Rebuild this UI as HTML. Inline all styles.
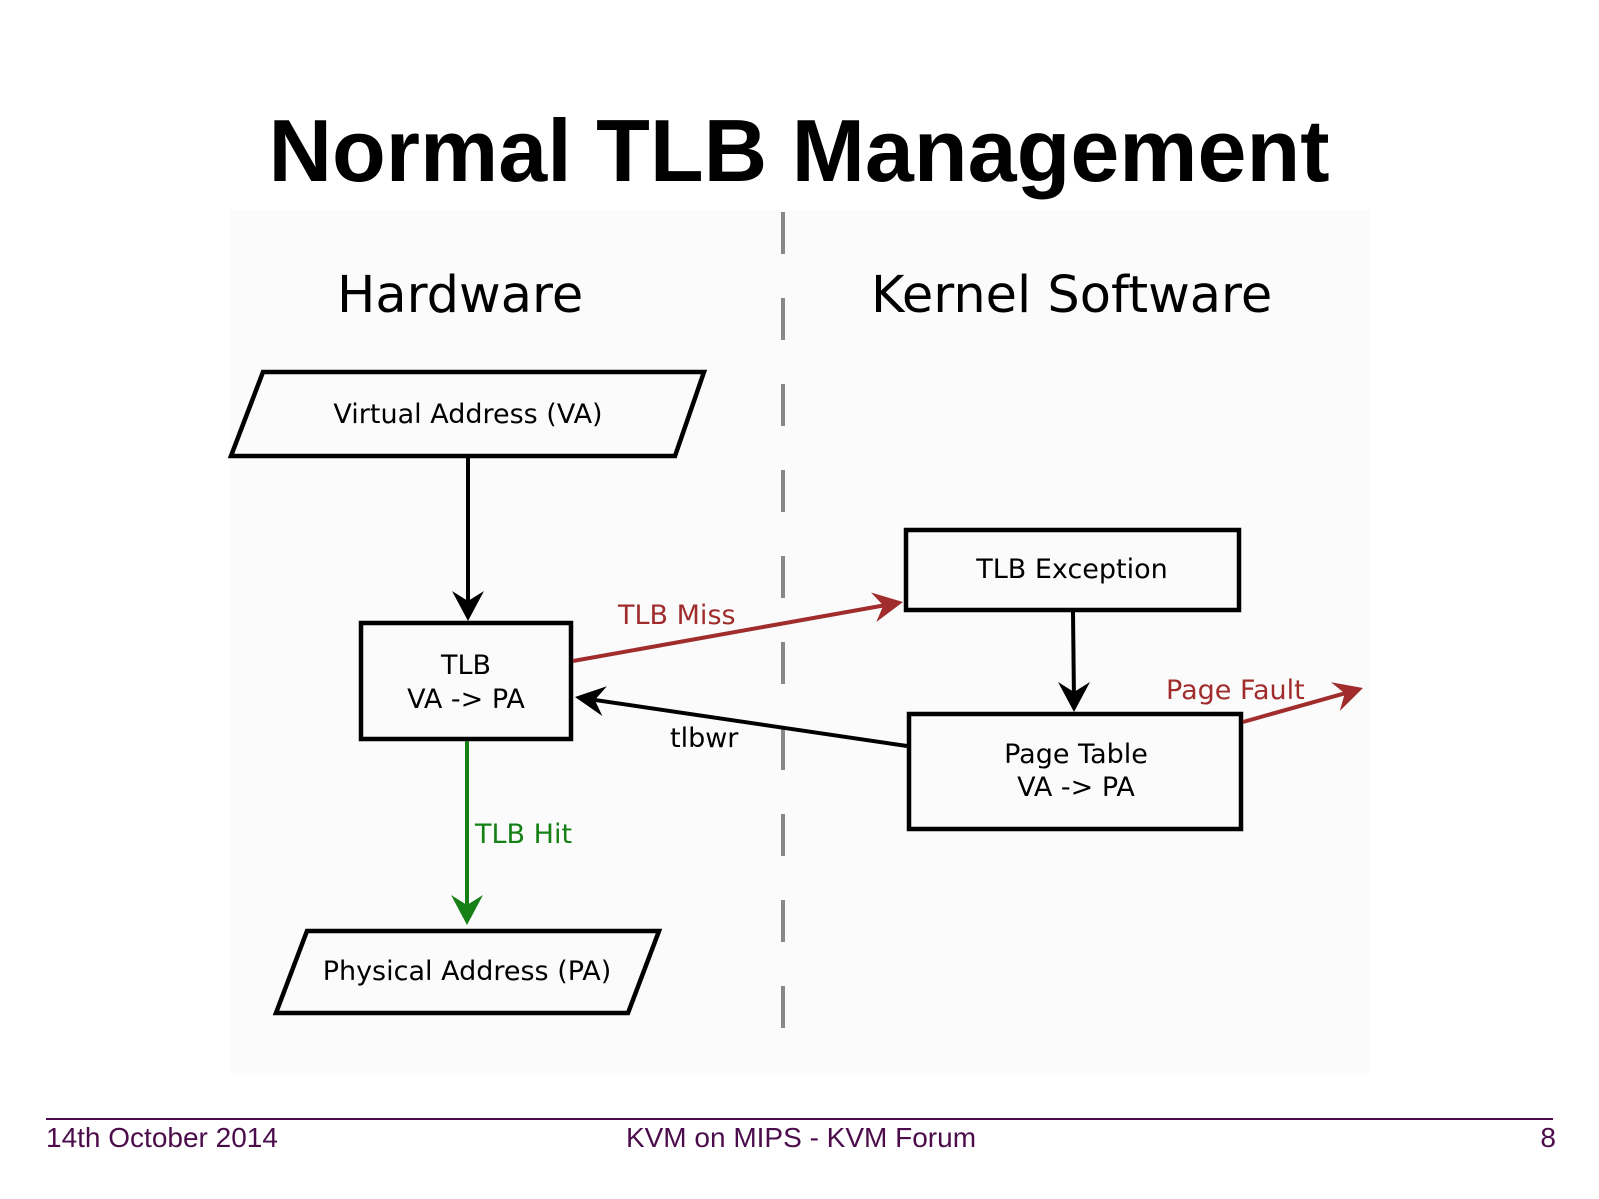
<!DOCTYPE html>
<html>
<head>
<meta charset="utf-8">
<style>
  html, body { margin: 0; padding: 0; background: #ffffff; }
  body { width: 1599px; height: 1199px; overflow: hidden; }
  svg { display: block; }
  .dj { font-family: "DejaVu Sans", "Liberation Sans", sans-serif; }
  .lib { font-family: "Liberation Sans", "DejaVu Sans", sans-serif; }
</style>
</head>
<body>
<svg width="1599" height="1199" viewBox="0 0 1599 1199" xmlns="http://www.w3.org/2000/svg">
  <rect x="0" y="0" width="1599" height="1199" fill="#ffffff"/>
  <!-- diagram background -->
  <rect x="230" y="210" width="1140" height="863" fill="#fbfbfb"/>

  <!-- Title -->
  <text x="799" y="181" text-anchor="middle" class="lib" font-weight="bold" font-size="88" fill="#000">Normal TLB Management</text>

  <!-- Dashed divider -->
  <line x1="783" y1="212" x2="783" y2="1030" stroke="#888888" stroke-width="4" stroke-dasharray="42 44"/>

  <!-- Section headings -->
  <text x="337" y="312" class="dj" font-size="51" fill="#000">Hardware</text>
  <text x="871" y="312" class="dj" font-size="51" fill="#000">Kernel Software</text>

  <!-- Virtual Address parallelogram -->
  <polygon points="263,372 704,372 675,456 231,456" fill="none" stroke="#000" stroke-width="4.5" stroke-linejoin="miter"/>
  <text x="468" y="423" text-anchor="middle" class="dj" font-size="27" fill="#000">Virtual Address (VA)</text>

  <!-- VA -> TLB arrow -->
  <line x1="468" y1="458" x2="468" y2="608" stroke="#000" stroke-width="4"/>
  <polygon points="468,621 484,591 468,601 452,591" fill="#000"/>

  <!-- TLB box -->
  <rect x="361" y="623" width="210" height="116" fill="none" stroke="#000" stroke-width="4.5"/>
  <text x="466" y="674" text-anchor="middle" class="dj" font-size="27" fill="#000">TLB</text>
  <text x="466" y="708" text-anchor="middle" class="dj" font-size="27" fill="#000">VA -&gt; PA</text>

  <!-- TLB Miss arrow -->
  <line x1="573" y1="661" x2="891.2" y2="604.1" stroke="#a02c2c" stroke-width="4"/>
  <polygon points="903,602 876.3,622.0 883.3,605.5 871.0,592.5" fill="#a02c2c"/>
  <text x="618" y="624" class="dj" font-size="27" fill="#a02c2c">TLB Miss</text>

  <!-- TLB Exception box -->
  <rect x="906" y="530" width="333" height="80" fill="none" stroke="#000" stroke-width="4.5"/>
  <text x="1072" y="578" text-anchor="middle" class="dj" font-size="27" fill="#000">TLB Exception</text>

  <!-- Exception -> Page Table arrow -->
  <line x1="1073" y1="612" x2="1074" y2="700" stroke="#000" stroke-width="4"/>
  <polygon points="1074,712 1090,682 1074,692 1058,682" fill="#000"/>

  <!-- Page Table box -->
  <rect x="909" y="714" width="332" height="115" fill="none" stroke="#000" stroke-width="4.5"/>
  <text x="1076" y="763" text-anchor="middle" class="dj" font-size="27" fill="#000">Page Table</text>
  <text x="1076" y="796" text-anchor="middle" class="dj" font-size="27" fill="#000">VA -&gt; PA</text>

  <!-- tlbwr arrow -->
  <line x1="907" y1="746" x2="586.9" y2="698.8" stroke="#000" stroke-width="4"/>
  <polygon points="575,697 606.9,686.3 594.8,700.0 602.3,716.0" fill="#000"/>
  <text x="670" y="747" class="dj" font-size="27" fill="#000">tlbwr</text>

  <!-- Page Fault arrow -->
  <line x1="1243" y1="722" x2="1351.5" y2="691.4" stroke="#a02c2c" stroke-width="4"/>
  <polygon points="1363,688 1339.8,711.0 1344.8,693.4 1331.0,682.2" fill="#a02c2c"/>
  <text x="1166" y="699" class="dj" font-size="27" fill="#a02c2c">Page Fault</text>

  <!-- TLB Hit arrow -->
  <line x1="467" y1="741" x2="467" y2="912" stroke="#168016" stroke-width="4"/>
  <polygon points="467,925 483,895 467,905 451,895" fill="#168016"/>
  <text x="475" y="843" class="dj" font-size="27" fill="#168016">TLB Hit</text>

  <!-- Physical Address parallelogram -->
  <polygon points="307,931 659,931 628,1013 276,1013" fill="none" stroke="#000" stroke-width="4.5" stroke-linejoin="miter"/>
  <text x="467" y="980" text-anchor="middle" class="dj" font-size="27" fill="#000">Physical Address (PA)</text>

  <!-- Footer -->
  <line x1="46" y1="1119" x2="1553" y2="1119" stroke="#4c0c4c" stroke-width="2"/>
  <text x="46" y="1147" class="lib" font-size="28" fill="#4c0c4c">14th October 2014</text>
  <text x="801" y="1147" text-anchor="middle" class="lib" font-size="28" fill="#4c0c4c">KVM on MIPS - KVM Forum</text>
  <text x="1556" y="1147" text-anchor="end" class="lib" font-size="28" fill="#4c0c4c">8</text>
</svg>
</body>
</html>
